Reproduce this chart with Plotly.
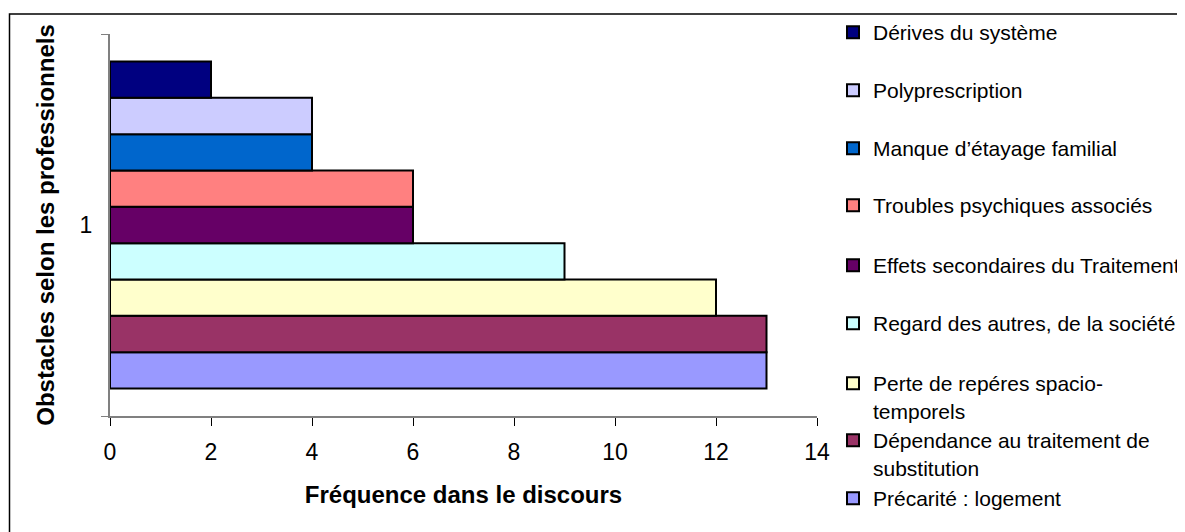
import plotly.graph_objects as go

categories = ["1"]
series_names = [
    "Précarité : logement",
    "Dépendance au traitement de<br>substitution",
    "Perte de repéres spacio-<br>temporels",
    "Regard des autres, de la société",
    "Effets secondaires du Traitement",
    "Troubles psychiques associés",
    "Manque d’étayage familial",
    "Polyprescription",
    "Dérives du système",
]
series_values = [13, 13, 12, 9, 6, 6, 4, 4, 2]
series_colors = ["#9999FF", "#993366", "#FFFFCC", "#CCFFFF", "#660066",
                 "#FF8080", "#0066CC", "#CCCCFF", "#000080"]
x_ticks = [0, 2, 4, 6, 8, 10, 12, 14]

# legend first-line centre positions (px from top of window) for each series
legend_y_px = [498, 440, 383, 323, 265, 205, 148, 90, 32]

W, H = 1185, 532
S = 8  # page body offset
FONT = "Arial, 'Liberation Sans', sans-serif"

# plot area in window px
PX0, PX1, PY0, PY1 = 110, 817, 34, 416
L, R = PX0 - S, PX1 - S
T, B = PY0 - S, PY1 - S

fig = go.Figure()
for i, (name, val, col) in enumerate(zip(series_names, series_values, series_colors)):
    lname = "legend" if i == 0 else f"legend{i+1}"
    fig.add_trace(go.Bar(
        y=categories, x=[val], name=name, orientation="h",
        marker=dict(color=col, line=dict(color="black", width=2)),
        legend=lname,
    ))

layout_legends = {}
for i, py in enumerate(legend_y_px):
    lname = "legend" if i == 0 else f"legend{i+1}"
    layout_legends[lname] = dict(
        xref="container", yref="container",
        x=(833 - S) / W, y=1 - (py - 20 - S) / H,
        xanchor="left", yanchor="top",
        bgcolor="rgba(0,0,0,0)", borderwidth=0,
        font=dict(family=FONT, size=21, color="black"),
        valign="top", itemwidth=30,
        itemclick=False, itemdoubleclick=False,
    )

fig.update_layout(
    width=W, height=H,
    margin=dict(l=L, r=W - R, t=T, b=H - B, autoexpand=False),
    paper_bgcolor="white", plot_bgcolor="white",
    barmode="group", bargap=0.144, bargroupgap=0,
    showlegend=True,
    font=dict(family=FONT, size=21, color="black"),
    **layout_legends,
)

fig.update_xaxes(
    range=[0, 14], tickvals=x_ticks, ticktext=[str(t) for t in x_ticks],
    showgrid=False, zeroline=False, automargin=False,
    showline=True, linecolor="#808080", linewidth=2,
    ticks="outside", ticklen=8, tickcolor="black", tickwidth=1,
    tickfont=dict(size=23, family=FONT, color="black"),
    ticklabelstandoff=6,
    title=dict(text="<b>Fréquence dans le discours</b>", standoff=23,
               font=dict(size=24, family=FONT, color="black")),
    fixedrange=True,
)
fig.update_yaxes(
    type="category", tickson="boundaries",
    showgrid=False, zeroline=False, automargin=False,
    showline=True, linecolor="#808080", linewidth=2,
    ticks="outside", ticklen=7, tickcolor="#808080", tickwidth=1,
    tickfont=dict(size=23, family=FONT, color="black"),
    ticklabelstandoff=11,
    title=dict(text="<b>Obstacles selon les professionnels</b>", standoff=18,
               font=dict(size=24, family=FONT, color="black")),
    fixedrange=True,
)

# outer chart-area border
pw, ph = R - L, B - T
fig.add_shape(type="rect", xref="paper", yref="paper",
              x0=(9.5 - S - L) / pw, x1=(W + 20 - L) / pw,
              y0=(B - (H + 20)) / ph, y1=(B - (14 - S)) / ph,
              line=dict(color="black", width=1.5), fillcolor="rgba(0,0,0,0)",
              layer="below")

fig.write_html("out.html")
